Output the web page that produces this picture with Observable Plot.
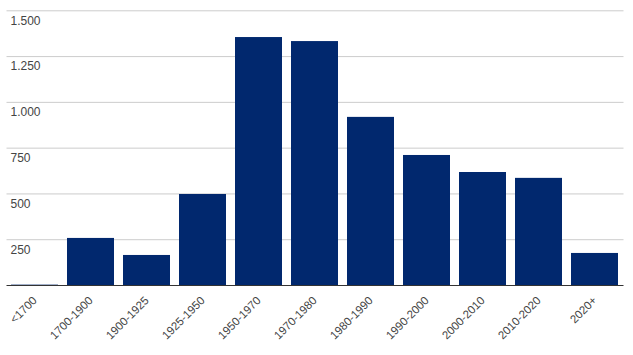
<!DOCTYPE html>
<html>
<head>
<meta charset="utf-8">
<script src="https://cdn.jsdelivr.net/npm/d3@7"></script>
<script src="https://cdn.jsdelivr.net/npm/@observablehq/plot@0.6"></script>
<style>
  html, body { margin: 0; padding: 0; background: #fff; }
  #chart svg { display: block; }
</style>
</head>
<body>
<div id="chart"></div>
<script>
const categories = ["<1700", "1700-1900", "1900-1925", "1925-1950", "1950-1970", "1970-1980", "1980-1990", "1990-2000", "2000-2010", "2010-2020", "2020+"];
const values = [2, 257, 164, 497, 1354, 1332, 918, 710, 617, 585, 175];
const yTicks = [250, 500, 750, 1000, 1250, 1500];

const data = categories.map((c, i) => ({category: c, value: values[i]}));
const fmt = d => d3.format(",")(d).replace(/,/g, ".");

const chart = Plot.plot({
  width: 633,
  height: 355,
  marginLeft: 6.5,
  marginRight: 9.5,
  marginTop: 10.3,
  marginBottom: 70,
  style: {fontFamily: "'Liberation Sans', Arial, sans-serif", fontSize: "12px", color: "#444", background: "#fff"},
  x: {domain: categories, paddingInner: 0.16, paddingOuter: 0.08, align: 0.5, label: null},
  y: {domain: [0, 1500], label: null},
  marks: [
    Plot.ruleY(yTicks, {stroke: "#ccc", strokeWidth: 1}),
    Plot.barY(data, {x: "category", y: "value", fill: "#01286e"}),
    Plot.ruleY([0], {stroke: "#333", strokeWidth: 1}),
    Plot.text(yTicks, {y: d => d, frameAnchor: "left", dx: 3.5, dy: 10, text: fmt, textAnchor: "start", fill: "#444", fontSize: 12}),
    Plot.axisY({ticks: [], label: null}),
    Plot.axisX({tickRotate: -45, tickSize: 0, tickPadding: 13, fontSize: 11.5, label: null, fill: "#444"})
  ]
});
document.getElementById("chart").appendChild(chart);
</script>
</body>
</html>
